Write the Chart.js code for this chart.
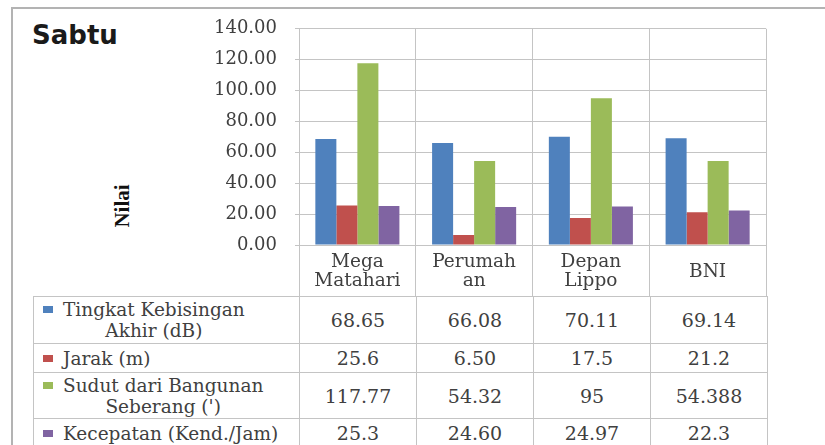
<!DOCTYPE html>
<html>
<head>
<meta charset="utf-8">
<script src="https://cdn.jsdelivr.net/npm/chart.js@4.4.1/dist/chart.umd.min.js"></script>
<style>
    html, body { margin: 0; padding: 0; background: #fff; }
    body { width: 825px; height: 445px; position: relative; overflow: hidden; font-family: "DejaVu Serif", serif; color: #404040; }
    #frame { position: absolute; left: 11px; top: 7px; width: 900px; height: 500px; border-left: 2px solid #b3b3b3; border-top: 2px solid #b3b3b3; }
    #title { position: absolute; left: 32px; top: 22px; font: bold 26px/26px "DejaVu Sans", sans-serif; color: #1a1a1a; }
    #ytitle { position: absolute; left: 122px; top: 206px; transform: translate(-50%, -50%) rotate(-90deg); font: bold 21px "Liberation Serif", serif; color: #111; white-space: nowrap; }
    #chartBox { position: absolute; left: 0; top: 0; width: 825px; height: 296px; }
    #tbl { position: absolute; left: 33px; top: 296px; border-collapse: collapse; table-layout: fixed; width: 734px; }
    #tbl td { border: 1px solid #c4c4c4; font-size: 19px; text-align: center; vertical-align: middle; padding: 0; color: #404040; }
    #tbl td.lg { text-align: left; padding-left: 9px; white-space: nowrap; font-size: 18.5px; }
    .mk { display: inline-block; width: 10px; height: 7px; margin-right: 10px; vertical-align: top; margin-top: 7px; }
    .nm { display: inline-block; text-align: center; white-space: pre-line; line-height: 21px; vertical-align: top; }
</style>
</head>
<body>
<div id="frame"></div>
<div id="title">Sabtu</div>
<div id="ytitle">Nilai</div>
<div id="chartBox"><canvas id="bar-chart"></canvas></div>
<table id="tbl"></table>

<script>
    // Data
    var lokasi = [["Mega", "Matahari"], ["Perumah", "an"], ["Depan", "Lippo"], ["BNI"]];
    var namaSeri = ["Tingkat Kebisingan\nAkhir (dB)", "Jarak (m)", "Sudut dari Bangunan\nSeberang (')", "Kecepatan (Kend./Jam)"];
    var kebisingan = ["68.65", "66.08", "70.11", "69.14"];
    var jarak = ["25.6", "6.50", "17.5", "21.2"];
    var sudut = ["117.77", "54.32", "95", "54.388"];
    var kecepatan = ["25.3", "24.60", "24.97", "22.3"];
    var warna = ["#4F81BD", "#C0504D", "#9BBB59", "#8064A2"];
    var yMin = 0, yMax = 140, yStep = 20;

    var seri = [kebisingan, jarak, sudut, kecepatan];
    var gridColor = "#c4c4c4";
    var serif = "'DejaVu Serif', serif";

    // Graphique
    var ctx = document.getElementById("bar-chart").getContext("2d");
    new Chart(ctx, {
        type: "bar",
        data: {
            labels: lokasi,
            datasets: seri.map(function (s, i) {
                return {
                    label: namaSeri[i].replace("\n", " "),
                    data: s.map(Number),
                    backgroundColor: warna[i],
                    categoryPercentage: 0.72,
                    barPercentage: 1.0
                };
            })
        },
        options: {
            responsive: true,
            maintainAspectRatio: false,
            animation: false,
            layout: { padding: { top: 19, right: 59, left: 0, bottom: 0 } },
            plugins: {
                legend: { display: false },
                tooltip: { enabled: true }
            },
            scales: {
                x: {
                    grid: { offset: true, color: gridColor, tickLength: 51 },
                    border: { color: gridColor },
                    ticks: {
                        color: "#404040",
                        maxRotation: 0,
                        autoSkip: false,
                        padding: -43.5,
                        font: function (c) {
                            var one = lokasi[c.index] && lokasi[c.index].length === 1;
                            return { family: serif, size: 18.5, lineHeight: one ? 2.1 : 1.03 };
                        }
                    },
                    afterFit: function (s) { s.height = 51; }
                },
                y: {
                    min: yMin,
                    max: yMax,
                    grid: { color: gridColor, tickLength: 4 },
                    border: { color: gridColor },
                    ticks: {
                        stepSize: yStep,
                        color: "#404040",
                        padding: 18,
                        font: { family: serif, size: 18 },
                        callback: function (v) { return Number(v).toFixed(2); }
                    },
                    afterFit: function (s) { s.width = 299; }
                }
            }
        }
    });

    // Tableau de données
    var tbl = document.getElementById("tbl");
    var cg = document.createElement("colgroup");
    [266, 117, 117, 117, 117].forEach(function (w) {
        var c = document.createElement("col");
        c.style.width = w + "px";
        cg.appendChild(c);
    });
    tbl.appendChild(cg);
    var hauteurs = [47, 29, 46, 29];
    seri.forEach(function (s, i) {
        var tr = document.createElement("tr");
        tr.style.height = hauteurs[i] + "px";
        var td = document.createElement("td");
        td.className = "lg";
        td.innerHTML = '<span class="mk" style="background:' + warna[i] + '"></span><span class="nm"></span>';
        td.querySelector(".nm").textContent = namaSeri[i];
        tr.appendChild(td);
        s.forEach(function (v) {
            var c = document.createElement("td");
            c.textContent = v;
            tr.appendChild(c);
        });
        tbl.appendChild(tr);
    });
</script>
</body>
</html>
